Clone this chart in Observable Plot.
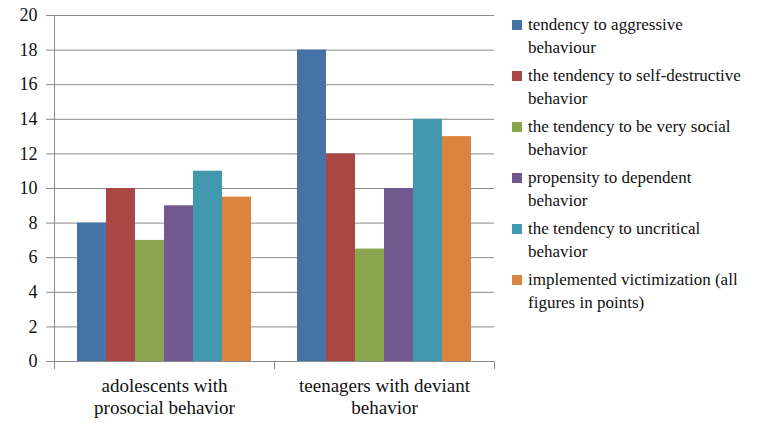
<!DOCTYPE html>
<html><head><meta charset="utf-8">
<script src="https://cdn.jsdelivr.net/npm/d3@7"></script>
<script src="https://cdn.jsdelivr.net/npm/@observablehq/plot@0.6"></script>
<style>
  html, body { margin: 0; padding: 0; background: #fff; }
  .c { font-family: 'Liberation Serif', serif; font-size: 17px; }
</style>
</head>
<body style="font-family:'Liberation Serif';font-size:17px">
<div id="wrap" class="c" style="position:relative;width:780px;height:423px;overflow:hidden;font-family:'Liberation Serif'">
  <div id="legend" class="c" style="position:absolute;left:512px;top:13px;width:290px;font-family:'Liberation Serif'"></div>
</div>
<script>
const FONT = "Liberation Serif";
const groups = ["adolescents with prosocial behavior", "teenagers with deviant behavior"];
const groupLabels = ["adolescents with\nprosocial behavior", "teenagers with deviant\nbehavior"];
const series = [
  "tendency to aggressive\nbehaviour",
  "the tendency to self-destructive\nbehavior",
  "the tendency to be very social\nbehavior",
  "propensity to dependent\nbehavior",
  "the tendency to uncritical\nbehavior",
  "implemented victimization (all\nfigures in points)"
];
const colors = ["#4572A7", "#AA4643", "#89A54E", "#71588F", "#4198AF", "#DB843D"];
const prosocial = [8, 10, 7, 9, 11, 9.5];
const deviant = [18, 12, 6.5, 10, 14, 13];
const yTicks = [0, 2, 4, 6, 8, 10, 12, 14, 16, 18, 20];

const data = [];
series.forEach((s, i) => {
  data.push({group: groups[0], series: s, value: prosocial[i]});
  data.push({group: groups[1], series: s, value: deviant[i]});
});

const gray = "#898989";
const chart = Plot.plot({
  width: 780,
  height: 423,
  marginLeft: 53,
  marginRight: 286,
  marginTop: 15,
  marginBottom: 62,
  style: {fontFamily: FONT, fontSize: "17px", background: "transparent", color: "#111"},
  fx: {domain: groups, padding: 0, axis: null},
  x: {domain: series, paddingInner: 0, paddingOuter: 0.74, axis: null},
  y: {domain: [0, 20], axis: null},
  color: {domain: series, range: colors},
  marks: [
    Plot.gridY(yTicks, {stroke: gray, strokeOpacity: 1}),
    Plot.barY(data, {fx: "group", x: "series", y: "value", fill: "series"}),
    Plot.ruleY([0], {stroke: gray}),
    Plot.frame({anchor: "left", fx: () => groups[0], stroke: gray, insetBottom: -7}),
    Plot.frame({anchor: "left", fx: () => groups[1], stroke: gray, insetTop: 346, insetBottom: -7}),
    Plot.frame({anchor: "right", fx: () => groups[1], stroke: gray, insetTop: 346, insetBottom: -7}),
    Plot.axisY({ticks: yTicks, tickSize: 8, tickPadding: 9, stroke: gray, fill: "#111", label: null, fontSize: 18, fontFamily: FONT}),
    Plot.axisFx({anchor: "bottom", tickSize: 0, tickPadding: 14, label: null, fill: "#111", fontSize: 19, lineHeight: 1.2, fontFamily: FONT,
      tickFormat: d => groupLabels[groups.indexOf(d)]})
  ]
});
document.getElementById("wrap").prepend(chart);

const legend = document.getElementById("legend");
series.forEach((s, i) => {
  const div = document.createElement("div");
  div.className = "c";
  div.style.cssText = "position:relative;padding-left:16px;line-height:23px;color:#111;margin-bottom:5px;white-space:nowrap;font-family:'Liberation Serif';font-size:17px";
  const sw = document.createElement("span");
  sw.style.cssText = "position:absolute;left:0;top:7px;width:10px;height:10px;background:" + colors[i];
  div.appendChild(sw);
  s.split("\n").forEach((line, j) => {
    if (j) div.appendChild(document.createElement("br"));
    div.appendChild(document.createTextNode(line));
  });
  legend.appendChild(div);
});
</script>
</body>
</html>
